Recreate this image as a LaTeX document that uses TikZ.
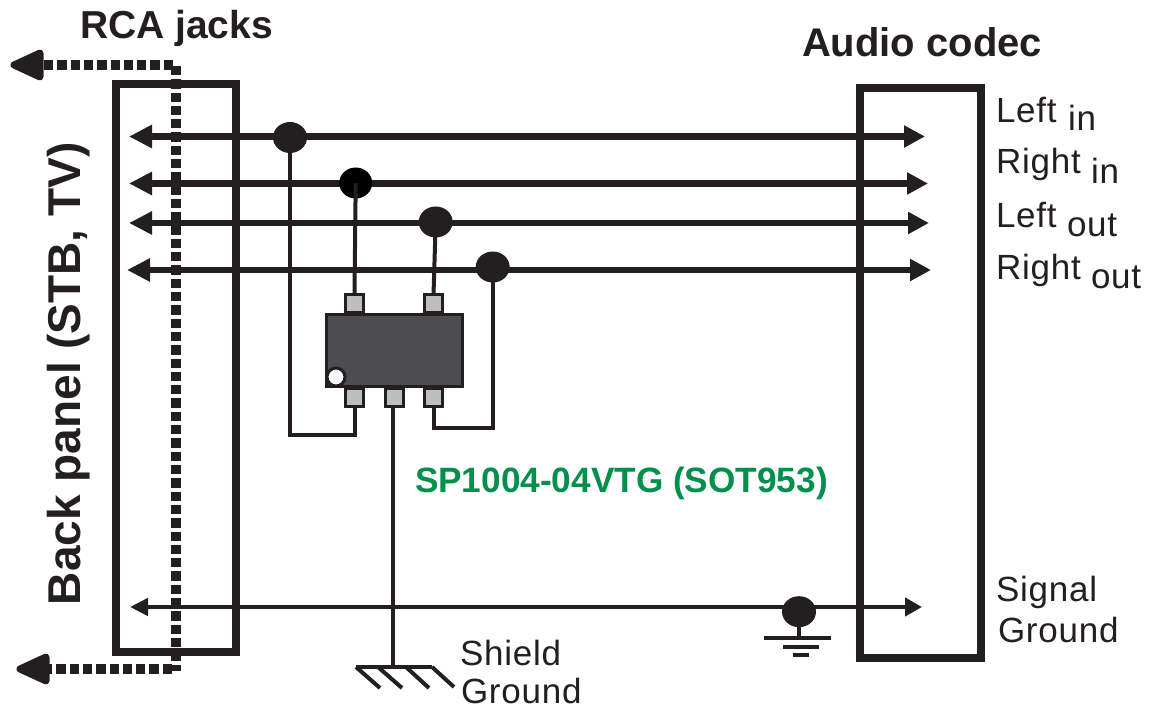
\documentclass[tikz,border=0pt]{standalone}
\usepackage{fontspec}
\setmainfont{Liberation Sans}
\usetikzlibrary{arrows.meta,shapes.geometric}
\definecolor{ink}{HTML}{231F20}
\definecolor{chipfill}{HTML}{4D4D4F}
\definecolor{pinfill}{HTML}{BCBEC0}
\definecolor{partgreen}{HTML}{00904C}
\newcommand{\fs}[1]{\fontsize{#1}{#1}\selectfont}
\newcommand{\spaced}{\addfontfeature{LetterSpace=2.2}}
\tikzset{
  panelbox/.style={draw=ink,line width=8pt,rectangle,inner sep=0,outer sep=0},
  signal/.style={draw=ink,line width=6.5pt},
  gndline/.style={draw=ink,line width=4.5pt},
  wire/.style={draw=ink,line width=4pt},
  thinwire/.style={draw=ink,line width=3.2pt},
  tapdot/.style={ellipse,fill=ink,inner sep=0,outer sep=0,minimum width=34pt,minimum height=31pt},
  pinbox/.style={rectangle,draw=ink,fill=pinfill,line width=3pt,inner sep=0,outer sep=0,minimum width=18pt,minimum height=18pt},
  chipbox/.style={rectangle,draw=ink,fill=chipfill,line width=3pt,inner sep=0,outer sep=0,minimum width=136pt,minimum height=72pt},
  label/.style={inner sep=0,outer sep=0,anchor=base west,text=ink,font=\fs{35}\spaced},
  heading/.style={inner sep=0,outer sep=0,anchor=base west,text=ink,font=\bfseries\fs{39}},
  dashline/.style={draw=ink,line width=9.5pt,dash pattern=on 9.3pt off 4pt},
  bigtip/.style={fill=ink,draw=ink,line width=7pt,line join=round},
}
\begin{document}
\begin{tikzpicture}[x=1pt,y=-1pt]
\useasboundingbox (0,0) rectangle (1149,711);
% panels
\node[panelbox,minimum width=120pt,minimum height=567pt] (back) at (176,368) {};
\node[panelbox,minimum width=121pt,minimum height=569.5pt] (codec) at (920.5,372.75) {};
% line end points
\coordinate (l1) at (129,136.5); \coordinate (r1) at (925,136.5);
\coordinate (l2) at (129,183.5); \coordinate (r2) at (928,183.5);
\coordinate (l3) at (129,223); \coordinate (r3) at (929,223);
\coordinate (l4) at (127,270); \coordinate (r4) at (931,270);
\coordinate (l5) at (130,607); \coordinate (r5) at (922,607);
% signal lines
\foreach \n in {1,2,3,4}
  \draw[signal,{Triangle[length=23pt,width=22pt]}-{Triangle[length=21pt,width=21pt]}] (l\n) -- (r\n);
\draw[gndline,{Triangle[length=18pt,width=17pt]}-{Triangle[length=17pt,width=18pt]}] (l5) -- (r5);
% pins
\node[pinbox] (pinTa) at (354.5,304) {};
\node[pinbox] (pinTb) at (433.5,304) {};
\node[pinbox] (pinBa) at (354.5,397) {};
\node[pinbox] (pinBb) at (394,397) {};
\node[pinbox] (pinBc) at (433.5,397) {};
% tap dots
\node[tapdot] (dotA) at (290,137.5) {};
\node[tapdot,fill=black,minimum width=33pt] (dotB) at (355.7,183) {};
\node[tapdot] (dotC) at (435.7,222) {};
\node[tapdot] (dotD) at (492.7,267) {};
\node[tapdot] (dotE) at (799,611.7) {};
% chip
\node[chipbox] (chip) at (394.5,350.5) {};
\node[circle,draw=ink,fill=white,line width=3pt,inner sep=0,minimum size=18pt] (pinone) at (336,377) {};
% wires
\coordinate (cornerA) at (290,435);
\coordinate (cornerD) at (492.7,428);
\draw[wire,line join=miter] (dotA.center) -- (cornerA) -- (cornerA -| pinBa.south) -- (pinBa.south);
\draw[wire] (dotB.center) -- (pinTa.north);
\draw[wire] (dotC.center) -- (pinTb.north);
\draw[wire] (dotD.center) -- (cornerD) -- (cornerD -| pinBc.south) -- (pinBc.south);
% shield ground
\coordinate (shieldTop) at (392.7,667);
\coordinate (hA) at (356,667); \coordinate (hB) at (432,667);
\coordinate (hBa) at (378,667); \coordinate (hCa) at (406,667);
\coordinate (eA) at (380,688); \coordinate (eB) at (402,688);
\coordinate (eC) at (429,688); \coordinate (eD) at (454,687);
\draw[wire] (pinBb.south -| shieldTop) -- (shieldTop);
\draw[wire] (hA) -- (hB);
\draw[wire] (hA) -- (eA);
\draw[wire] (hBa) -- (eB);
\draw[wire] (hCa) -- (eC);
\draw[wire] (hB) -- (eD);
% signal ground
\coordinate (gA) at (799,638);
\coordinate (gAl) at (764,638); \coordinate (gAr) at (831,638);
\coordinate (gBl) at (783,647); \coordinate (gBr) at (819,647);
\coordinate (gCl) at (793,655); \coordinate (gCr) at (809,655);
\draw[thinwire] (dotE.center) -- (gA);
\draw[thinwire] (gAl) -- (gAr);
\draw[thinwire] (gBl) -- (gBr);
\draw[thinwire] (gCl) -- (gCr);
% dashed shield routes
\coordinate (dTop) at (176,66);
\coordinate (dBot) at (176,671);
\coordinate (cTop) at (173,65);
\coordinate (cBot) at (172,669);
\coordinate (tipTop) at (14,65);
\coordinate (tipBot) at (20,669);
\coordinate (endTop) at (40,65);
\coordinate (endBot) at (46,669);
\draw[dashline] (dTop) -- (dBot);
\draw[dashline] (cTop) -- (endTop);
\draw[dashline] (cBot) -- (endBot);
\draw[bigtip] (tipTop) -- ([yshift=-12pt]endTop) -- ([yshift=12pt]endTop) -- cycle;
\draw[bigtip] (tipBot) -- ([yshift=-12pt]endBot) -- ([yshift=12pt]endBot) -- cycle;
% labels
\node[heading] (rca) at (80,38.5) {RCA jacks};
\node[heading,font=\bfseries\fs{40}] (audio) at (802,57) {Audio codec};
\node[heading,font=\bfseries\fs{46},rotate=90] (backlabel) at (80,605) {Back panel (STB, TV)};
\node[label] (li) at (996,123) {Left};
\node[label] (lis) at (1068,131) {in};
\node[label] (ri) at (996,174) {Right};
\node[label] (ris) at (1091,184) {in};
\node[label] (lo) at (996,228) {Left};
\node[label] (los) at (1067,237) {out};
\node[label] (ro) at (996,280) {Right};
\node[label] (ros) at (1091,289) {out};
\node[label] (sig) at (996,601) {Signal};
\node[label] (sgnd) at (998,642) {Ground};
\node[label] (shd) at (460,665) {Shield};
\node[label] (shg) at (461,703.5) {Ground};
\node[label,font=\bfseries\fs{35.2},text=partgreen] (part) at (415,492) {SP1004-04VTG (SOT953)};
\end{tikzpicture}
\end{document}
